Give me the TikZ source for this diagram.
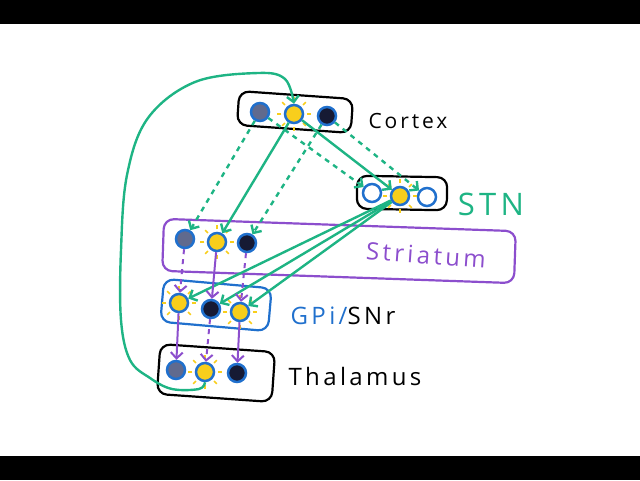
\documentclass[tikz,border=0pt]{standalone}
\usepackage{fontspec}
\newfontfamily\handfont[LetterSpace=14]{Open Sans}
\usepackage{xcolor}
\usetikzlibrary{arrows.meta,positioning,shapes}

\definecolor{nervegreen}{RGB}{30,180,132}
\definecolor{strpurple}{RGB}{140,78,205}
\definecolor{gpblue}{RGB}{32,112,205}
\definecolor{glow}{RGB}{248,206,28}
\definecolor{cellink}{RGB}{22,26,52}
\definecolor{cellgrey}{RGB}{96,106,142}

\begin{document}
\begin{tikzpicture}[x=1pt,y=-1pt,
  region/.style={draw, rounded corners=10pt, line width=2.2pt, inner sep=0pt},
  cell/.style={circle, draw=gpblue, line width=2.5pt, minimum size=18pt, inner sep=0pt},
  litcell/.style={cell, fill=glow},
  darkcell/.style={cell, fill=cellink},
  dimcell/.style={cell, fill=cellgrey},
  emptycell/.style={cell, fill=white},
  ray/.style={glow, line width=1.6pt},
  excite/.style={nervegreen, line width=2.4pt, -{Straight Barb[length=6pt,width=12pt]}},
  inhibit/.style={strpurple, line width=2pt, -{Straight Barb[length=6pt,width=12pt]}},
  weak/.style={dash pattern=on 5pt off 5pt},
  areaname/.style={font=\handfont\fontsize{24}{28}\selectfont, inner sep=0pt}
]
  % frame and letterbox bars
  \useasboundingbox (0,0) rectangle (640,480);
  \fill[black] (0,0) rectangle (640,24);
  \fill[black] (0,456) rectangle (640,480);

  % regions
  \node[region, minimum width=114pt, minimum height=34pt, rotate=-4] (cortexbox) at (295,112) {};
  \node[region, minimum width=90pt, minimum height=33pt, rotate=-1] (stnbox) at (402,193) {};
  \node[region, draw=strpurple, minimum width=352pt, minimum height=52pt, rotate=-2] (strbox) at (339,251) {};
  \node[region, draw=gpblue, minimum width=108pt, minimum height=43pt, rotate=-5] (gpbox) at (216,305) {};
  \node[region, minimum width=115pt, minimum height=50pt, rotate=-4] (thalbox) at (216,373) {};

  % cells
  \node[dimcell] (cortexdim) at (260,112) {};
  \node[litcell] (cortexlit) at (294,114) {};
  \node[darkcell] (cortexdark) at (327,116) {};
  \node[emptycell] (stnleft) at (372,193) {};
  \node[litcell] (stnlit) at (400,196) {};
  \node[emptycell] (stnright) at (427,197) {};
  \node[dimcell] (strdim) at (185,239) {};
  \node[litcell] (strlit) at (217,242) {};
  \node[darkcell] (strdark) at (247,243) {};
  \node[litcell] (gplita) at (179,303) {};
  \node[darkcell] (gpdark) at (211,309) {};
  \node[litcell] (gplitb) at (240,312) {};
  \node[dimcell] (thaldim) at (176,370) {};
  \node[litcell] (thallit) at (205,372) {};
  \node[darkcell] (thaldark) at (237,373) {};

  % glow around active cells
  \foreach \c in {cortexlit,stnlit,strlit,gplita,gplitb,thallit}
    \foreach \a in {0,45,...,315}
      \draw[ray] (\c.\a) ++(\a:2.5pt) -- ++(\a:4pt);

  % labels
  \node[areaname, font=\handfont\fontsize{21}{24}\selectfont] (cortexname) at (408,121) {Cortex};
  \node[areaname, nervegreen, font=\handfont\fontsize{31}{34}\selectfont] (stnname) at (491,204) {STN};
  \node[areaname, strpurple, rotate=-4] (strname) at (426,255) {Striatum};
  \node[areaname] (gpname) at (343,316) {\textcolor{gpblue}{GPi/}SNr};
  \node[areaname] (thalname) at (355,376) {Thalamus};

  % cortex to STN
  \draw[excite, weak] (cortexdim) -- (stnleft);
  \draw[excite] (cortexlit) -- (stnlit);
  \draw[excite, weak] (cortexdark) -- (stnright);

  % cortex to striatum
  \draw[excite, weak] (cortexdim) -- (strdim);
  \draw[excite] (cortexlit) -- (strlit);
  \draw[excite, weak] (cortexdark) -- (strdark);

  % STN to GPi/SNr
  \draw[excite] (stnlit) -- (gplita);
  \draw[excite] (stnlit) -- (gpdark);
  \draw[excite] (stnlit) -- (gplitb);

  % striatum to GPi/SNr
  \draw[inhibit, weak] (strdim) -- (gplita);
  \draw[inhibit] (strlit) -- (gpdark);
  \draw[inhibit, weak] (strdark) -- (gplitb);

  % GPi/SNr to thalamus
  \draw[inhibit] (gplita) -- (thaldim);
  \draw[inhibit, weak] (gpdark) -- (thallit);
  \draw[inhibit] (gplitb) -- (thaldark);

  % thalamus back to cortex
  \draw[excite] plot[smooth, tension=0.6] coordinates {(thallit.south) (199,389) (172,389) (150,378) (130,360) (121,320) (121,250) (127,175) (148,118) (195,82) (258,73) (285,79) (cortexlit.north)};
\end{tikzpicture}
\end{document}
